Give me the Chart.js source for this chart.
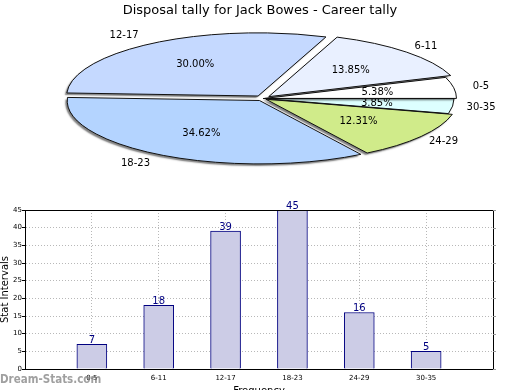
<!DOCTYPE html>
<html>
<head>
<meta charset="utf-8">
<script src="https://cdn.jsdelivr.net/npm/chart.js@4/dist/chart.umd.min.js"></script>
<style>
  html, body { margin:0; padding:0; background:#fff; }
  body { width:520px; height:390px; overflow:hidden; position:relative; font-family:'DejaVu Sans', sans-serif; }
  #pieWrap { position:absolute; left:0; top:0; }
  #barWrap { position:absolute; left:0; top:195px; }
  #title { position:absolute; left:0; top:2px; width:520px; text-align:center; font-size:13px; line-height:16px; color:#000; }
  #wm { position:absolute; left:0; top:374.3px; font-family:'DejaVu Sans Condensed', 'DejaVu Sans', sans-serif; font-size:11.5px; line-height:1; font-weight:bold; color:rgba(120,120,120,0.7); white-space:nowrap; }
</style>
</head>
<body>
<div id="pieWrap"><canvas id="pie" width="520" height="197"></canvas></div>
<div id="barWrap"><canvas id="bar" width="520" height="205"></canvas></div>
<div id="title"></div>
<div id="wm">Dream-Stats.com</div>
<script>
// ---- data ----
const categories = ['0-5', '6-11', '12-17', '18-23', '24-29', '30-35'];
const tallies = [7, 18, 39, 45, 16, 5];
const yTickMin = 0, yTickMax = 45, yTickStep = 5;
const chartTitle = 'Disposal tally for Jack Bowes - Career tally';
const xAxisTitle = 'Frequency';
const yAxisTitle = 'Stat Intervals';

// ---- styles ----
const sliceColors = ['#ffffff', '#e9f0ff', '#c5d9ff', '#b4d4ff', '#d0eb8a', '#ddffff'];
const sliceOffsets = [6, 32, 36, 28, 14, 0];
const PIE_RADIUS = 191;
const SQUASH = 0.33;

Chart.defaults.font.family = "'DejaVu Sans', sans-serif";
Chart.defaults.color = '#000';
document.getElementById('title').textContent = chartTitle;

const total = tallies.reduce((a, b) => a + b, 0);
// Chart.js draws clockwise; the reference runs counter-clockwise from 3 o'clock
const rev = a => a.slice().reverse();
const pieLabels = rev(categories);
const pieValues = rev(tallies);

const ellipsePlugin = {
  id: 'ellipse',
  beforeDatasetsDraw(chart) {
    const el = chart.getDatasetMeta(0).data[0];
    const ctx = chart.ctx;
    ctx.save();
    ctx.translate(el.x, el.y);
    ctx.scale(1, SQUASH);
    ctx.translate(-el.x, -el.y);
    ctx.shadowColor = 'rgba(0,0,0,0.5)';
    ctx.shadowOffsetX = -2;
    ctx.shadowOffsetY = 2;
    ctx.shadowBlur = 1.5;
  },
  afterDatasetsDraw(chart) {
    const ctx = chart.ctx;
    ctx.restore();
    const meta = chart.getDatasetMeta(0);
    const ds = chart.data.datasets[0];
    meta.data.forEach((el, i) => {
      const p = el.getProps(['x', 'y', 'startAngle', 'endAngle', 'outerRadius', 'circumference'], true);
      const d = (el.options.offset || 0) / 4;
      const mid = (p.startAngle + p.endAngle) / 2;
      const fix = 1 - Math.sin(Math.min(Math.PI, p.circumference || 0));
      const R = p.outerRadius + d * fix;
      ctx.save();
      ctx.translate(p.x, p.y);
      ctx.scale(1, SQUASH);
      ctx.translate(-p.x, -p.y);
      ctx.translate(Math.cos(mid) * d, Math.sin(mid) * d);
      ctx.beginPath();
      ctx.moveTo(p.x, p.y);
      ctx.arc(p.x, p.y, R, p.startAngle, p.endAngle);
      ctx.closePath();
      ctx.restore();
      ctx.save();
      ctx.lineWidth = 1;
      ctx.strokeStyle = '#111';
      ctx.stroke();
      ctx.restore();
      const place = (kx, ky) => {
        const cxp = p.x + Math.cos(mid) * (kx * p.outerRadius + d);
        const cyp = p.y + Math.sin(mid) * (ky * p.outerRadius + d) * SQUASH;
        return [cxp, cyp];
      };
      ctx.save();
      ctx.font = "10px 'DejaVu Sans'";
      ctx.fillStyle = '#000';
      ctx.textAlign = 'center';
      ctx.textBaseline = 'middle';
      const v = ds.data[i];
      const [px, py] = place(0.6, 0.6);
      ctx.fillText((v / total * 100).toFixed(2) + '%', px, py);
      const kx = Math.cos(mid) < 0 ? 1.28 : 1.15;
      const [lx, ly] = place(kx, 1.15);
      ctx.fillText(chart.data.labels[i], lx, ly);
      ctx.restore();
    });
  }
};

new Chart(document.getElementById('pie'), {
  type: 'pie',
  data: {
    labels: pieLabels,
    datasets: [{
      data: pieValues,
      backgroundColor: rev(sliceColors),
      offset: rev(sliceOffsets),
      borderWidth: 0,
      clip: false
    }]
  },
  options: {
    responsive: false,
    animation: false,
    events: [],
    radius: PIE_RADIUS,
    rotation: 90,
    layout: { padding: { left: 6 } },
    plugins: { legend: { display: false }, tooltip: { enabled: false }, title: { display: false } }
  },
  plugins: [ellipsePlugin]
});

// ---- bar chart ----
const barLabels = [''].concat(categories, ['']);
const barValues = [null].concat(tallies, [null]);

const barExtras = {
  id: 'barExtras',
  afterDatasetsDraw(chart) {
    const ctx = chart.ctx;
    const meta = chart.getDatasetMeta(0);
    ctx.save();
    ctx.font = "10px 'DejaVu Sans'";
    ctx.fillStyle = '#000080';
    ctx.textAlign = 'center';
    ctx.textBaseline = 'bottom';
    meta.data.forEach((el, i) => {
      const v = chart.data.datasets[0].data[i];
      if (v == null) return;
      ctx.fillText(String(v), el.x, el.y + 1);
    });
    ctx.restore();
  },
  afterDraw(chart) {
    const ctx = chart.ctx;
    const a = chart.chartArea;
    ctx.save();
    ctx.strokeStyle = '#000';
    ctx.lineWidth = 1;
    ctx.strokeRect(Math.round(a.left) + 0.5, Math.round(a.top) + 0.5, Math.round(a.right - a.left), Math.round(a.bottom - a.top));
    const ys = chart.scales.y;
    ctx.strokeStyle = '#999';
    ys.ticks.forEach(t => {
      const y = Math.round(ys.getPixelForValue(t.value)) + 0.5;
      ctx.beginPath();
      ctx.moveTo(Math.round(a.right), y);
      ctx.lineTo(Math.round(a.right) + 3, y);
      ctx.stroke();
    });
    ctx.restore();
  }
};

new Chart(document.getElementById('bar'), {
  type: 'bar',
  data: {
    labels: barLabels,
    datasets: [{
      data: barValues,
      backgroundColor: '#ccccE6',
      borderColor: '#000080',
      borderWidth: 1,
      barThickness: 30
    }]
  },
  options: {
    responsive: false,
    animation: false,
    events: [],
    layout: { padding: { top: 15, right: 27, left: 0, bottom: 0 } },
    plugins: { legend: { display: false }, tooltip: { enabled: false } },
    scales: {
      x: {
        offset: false,
        grid: { offset: false, color: '#b8b8b8', lineWidth: 1, drawTicks: false },
        border: { display: true, color: '#000', width: 1, dash: [1, 2] },
        ticks: { font: { size: 7 }, color: '#000', padding: 5, maxRotation: 0, autoSkip: false },
        title: { display: true, text: xAxisTitle, font: { size: 10, lineHeight: 1 }, padding: { top: 0, bottom: 4 }, color: '#000' },
        afterFit(s) { s.height = 31; }
      },
      y: {
        min: yTickMin,
        max: yTickMax,
        grid: { color: '#b8b8b8', lineWidth: 1, tickLength: 3, tickColor: '#000', tickBorderDash: [] },
        border: { display: true, color: '#000', width: 1, dash: [1, 2] },
        ticks: { stepSize: yTickStep, font: { size: 7 }, color: '#000', padding: 0 },
        title: { display: true, text: yAxisTitle, font: { size: 10, lineHeight: 1 }, padding: 0, color: '#000' },
        afterFit(s) { s.width = 25; }
      }
    }
  },
  plugins: [barExtras]
});
</script>
</body>
</html>
